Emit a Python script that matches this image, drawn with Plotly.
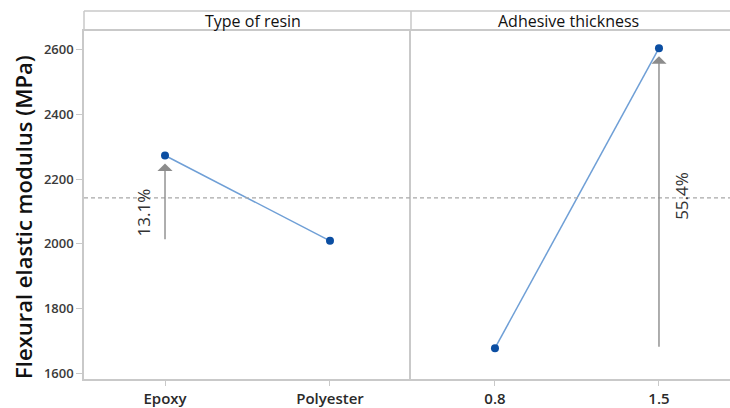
import plotly.graph_objects as go

# Main-effects data: mean flexural elastic modulus (MPa) per factor level
resin_levels = ["Epoxy", "Polyester"]
resin_means = [2273, 2009]
thickness_levels = ["0.8", "1.5"]
thickness_means = [1677, 2605]
grand_mean = 2142
resin_change = "13.1%"
thickness_change = "55.4%"
panel_titles = ["Type of resin", "Adhesive thickness"]
y_ticks = [1600, 1800, 2000, 2200, 2400, 2600]

W, H = 730, 408
ML, MR, MT, MB = 84, 0, 11, 27
split = 327 / 646          # boundary between the two panels (paper x)
ytop = 350 / 370           # top of plotting area, header strip above it

line_col = "#6f9fd6"
mark_col = "#0b4ea2"
frame_col = "#c9c9c9"
arrow_col = "#8c8c8c"
ytick_font = dict(family="Open Sans", size=13, color="#3a3a3a", weight=600)
xtick_font = dict(family="Open Sans", size=15, color="#2a2a2a", weight=600)

fig = go.Figure()
fig.add_trace(go.Scatter(x=resin_levels, y=resin_means, mode="lines+markers",
                         line=dict(color=line_col, width=1.5),
                         marker=dict(color=mark_col, size=8),
                         xaxis="x", yaxis="y", showlegend=False))
fig.add_trace(go.Scatter(x=thickness_levels, y=thickness_means, mode="lines+markers",
                         line=dict(color=line_col, width=1.5),
                         marker=dict(color=mark_col, size=8),
                         xaxis="x2", yaxis="y2", showlegend=False))

yrange = [1581.5, 2658.5]
common_x = dict(type="category", showgrid=False, zeroline=False, showline=True,
                linecolor=frame_col, linewidth=1.5, mirror=True,
                ticks="outside", ticklen=5, tickcolor=frame_col,
                tickfont=xtick_font)
fig.update_layout(
    width=W, height=H,
    margin=dict(l=ML, r=MR, t=MT, b=MB),
    paper_bgcolor="white", plot_bgcolor="white",
    xaxis=dict(domain=[0, split], range=[-0.491, 1.491], **common_x),
    xaxis2=dict(domain=[split, 1], range=[-0.512, 1.433], **common_x),
    yaxis=dict(domain=[0, ytop], range=yrange, tickvals=y_ticks,
               showgrid=False, zeroline=False, showline=True, mirror=False,
               linecolor=frame_col, linewidth=1.5, ticks="outside", ticklen=6,
               tickcolor=frame_col, tickfont=ytick_font, anchor="x"),
    yaxis2=dict(domain=[0, ytop], range=yrange, matches="y", showticklabels=False,
                showgrid=False, zeroline=False, showline=True, mirror=False,
                linecolor=frame_col, linewidth=1.5, anchor="x2"),
)

# Header strips
fig.add_shape(type="line", xref="paper", yref="paper", x0=0, x1=1.01, y0=1, y1=1,
              line=dict(color=frame_col, width=1.5))
for xp in (0, split):
    fig.add_shape(type="line", xref="paper", yref="paper", x0=xp, x1=xp, y0=ytop, y1=1,
                  line=dict(color=frame_col, width=1.5))
for title, (a, b), dx in zip(panel_titles, [(0, split), (split, 1)], [5, -2]):
    fig.add_annotation(text=title, xref="paper", yref="paper", x=(a + b) / 2,
                       y=(ytop + 1) / 2, showarrow=False, xshift=dx,
                       xanchor="center", yanchor="middle",
                       font=dict(family="Open Sans", size=16, color="#111"))

# Grand mean reference line across both panels
fig.add_shape(type="line", xref="paper", yref="y", x0=0, x1=1, y0=grand_mean, y1=grand_mean,
              line=dict(color="#a8a8a8", width=1.2, dash="4px,3px"))

# Change arrows from the low level up to the high level
fig.add_annotation(x=0, y=resin_means[0], ax=0, ay=resin_means[1], xref="x", yref="y",
                   axref="x", ayref="y", text="", showarrow=True, arrowhead=1,
                   arrowsize=1.8, arrowwidth=1.4, arrowcolor=arrow_col, standoff=8)
fig.add_annotation(x=1, y=thickness_means[1], ax=1, ay=thickness_means[0], xref="x2", yref="y2",
                   axref="x2", ayref="y2", text="", showarrow=True, arrowhead=1,
                   arrowsize=1.8, arrowwidth=1.4, arrowcolor=arrow_col, standoff=8)
fig.add_annotation(x=0, y=2097, xref="x", yref="y", text=resin_change, showarrow=False,
                   textangle=-90, xshift=-22, xanchor="center", yanchor="middle",
                   font=dict(family="Open Sans", size=17, color="#333"))
fig.add_annotation(x=1, y=2148, xref="x2", yref="y2", text=thickness_change, showarrow=False,
                   textangle=-90, xshift=23, xanchor="center", yanchor="middle",
                   font=dict(family="Open Sans", size=17, color="#333"))

# Y-axis title
fig.add_annotation(text="Flexural elastic modulus (MPa)", xref="paper", yref="paper",
                   x=(23 - ML) / 646, y=(H - MB - 218) / 370, showarrow=False,
                   textangle=-90, xanchor="center", yanchor="middle",
                   font=dict(family="Open Sans", size=22, color="#111", weight=600))

fig.write_html("out.html")
